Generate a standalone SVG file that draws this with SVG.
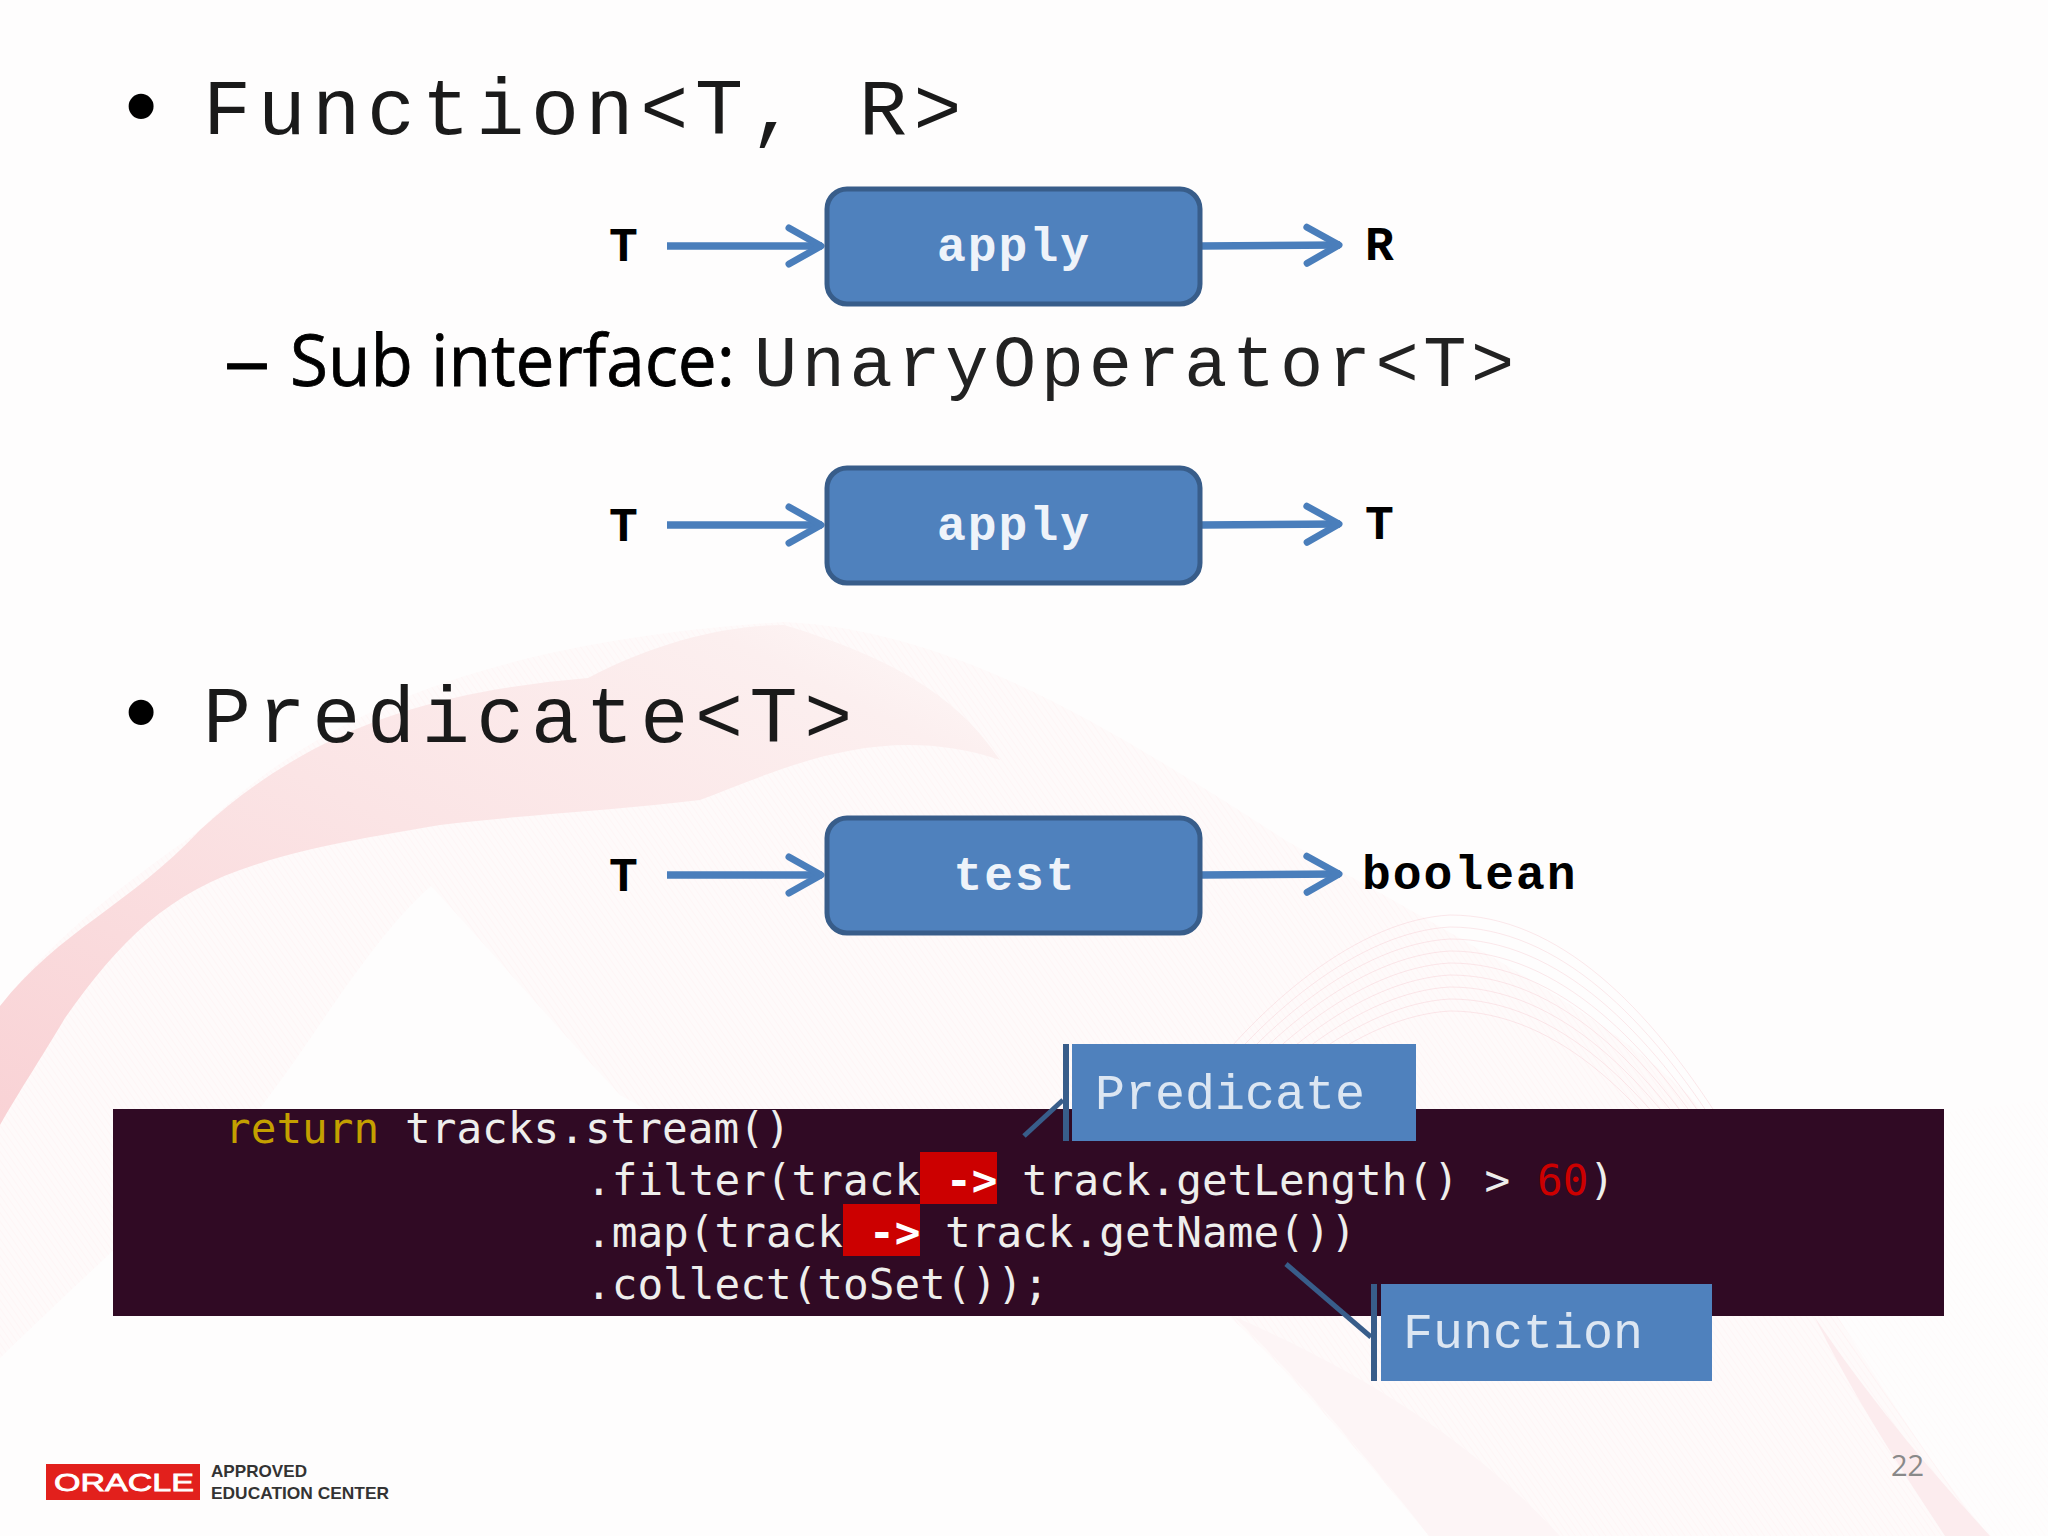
<svg xmlns="http://www.w3.org/2000/svg" width="2048" height="1536" viewBox="0 0 2048 1536">
<style>
.mono{font-family:"Liberation Mono","Courier New",monospace}
.bul{font-family:"Liberation Sans",Arial,sans-serif;font-size:92px;fill:#000}
.h{font-size:80px;letter-spacing:6.65px;fill:#1a1a1a}
.lb{font-size:48px;font-weight:bold;fill:#000;letter-spacing:2px}
.bx{font-size:48px;font-weight:bold;fill:#eef3fa;letter-spacing:2px;text-anchor:middle}
.box{fill:#4f81bd;stroke:#385d8a;stroke-width:5}
.ar{fill:none;stroke:#4a7ebb;stroke-width:7.5}
.code{font-family:"DejaVu Sans Mono",monospace;font-size:42.7px;fill:#eeeeec}
.call{fill:#4f81bd}
.bar{fill:#385d8a}
.lead{stroke:#385d8a;stroke-width:5;fill:none}
.ct{font-size:50px;fill:#dce6f2}
</style>
<defs>
<pattern id="hatch" width="5" height="5" patternUnits="userSpaceOnUse" patternTransform="rotate(55)"><path d="M0 0H5" stroke="#f8c9cf" stroke-width="0.7" stroke-opacity="0.5"/></pattern>
<linearGradient id="dk" x1="0" y1="1" x2="1" y2="0"><stop offset="0" stop-color="#f9d2d5"/><stop offset="0.5" stop-color="#fbe4e5"/><stop offset="0.85" stop-color="#fcefef"/><stop offset="1" stop-color="#fefafa"/></linearGradient>
<path id="arch" d="M1180 1110C1260 1000 1360 920 1450 915C1560 915 1650 1010 1720 1120" fill="none" stroke="#f7cdd2" stroke-width="1" stroke-opacity="0.45"/>
<marker id="chev" viewBox="0 0 40 44" refX="37" refY="22" markerWidth="40" markerHeight="44" markerUnits="userSpaceOnUse" orient="auto"><path d="M4 4L36 22L4 40" fill="none" stroke="#4a7ebb" stroke-width="7" stroke-linecap="round" stroke-linejoin="round"/></marker>
</defs>
<rect width="2048" height="1536" fill="#fefdfd"/>
<g id="background">
<path d="M0 1006C60 930 130 880 200 830C320 710 500 640 784 622C950 630 1100 720 1285 840C1500 960 1650 1040 1720 1130C1800 1250 1900 1430 1990 1536H1429C1350 1440 1270 1350 1200 1290C1050 1200 800 1200 620 1095C550 1020 490 950 431 886C370 940 320 1030 261 1107C170 1200 80 1280 0 1358Z" fill="#fefafa"/>
<path d="M0 1006C60 930 130 880 200 830C320 710 500 640 784 622C950 630 1100 720 1285 840C1500 960 1650 1040 1720 1130C1800 1250 1900 1430 1990 1536H1429C1350 1440 1270 1350 1200 1290C1050 1200 800 1200 620 1095C550 1020 490 950 431 886C370 940 320 1030 261 1107C170 1200 80 1280 0 1358Z" fill="url(#hatch)" opacity="0.5"/>
<path d="M0 1006C60 930 130 905 200 830C320 720 450 690 588 678C660 640 730 625 784 625C900 660 960 700 1000 760C880 720 780 770 700 800C620 810 520 815 440 825C350 840 300 850 261 863C170 890 120 940 65 1018C40 1060 20 1090 0 1125Z" fill="url(#dk)"/>
<path d="M1814 1316C1870 1400 1930 1470 1990 1536H1945C1895 1460 1850 1390 1814 1316Z" fill="#fcecee"/>
<path d="M1233 1316C1300 1380 1370 1460 1429 1536H1560C1480 1450 1380 1380 1233 1316Z" fill="#fdf5f6"/>
<path d="M1720 1150C1820 1130 1950 1110 2048 1100V1536H1990C1900 1430 1800 1280 1720 1150Z" fill="url(#hatch)" opacity="0.25"/>
<use href="#arch"/><use href="#arch" y="12"/><use href="#arch" y="24"/><use href="#arch" y="36"/><use href="#arch" y="48"/><use href="#arch" y="60"/><use href="#arch" y="72"/><use href="#arch" y="84"/><use href="#arch" y="96"/>
</g>
<g id="title1"><text class="bul" x="125" y="137">•</text><text class="mono h" x="203" y="134">Function&lt;T, R&gt;</text></g>
<g id="subtitle"><text x="224" y="386" font-family="'Open Sans','Noto Sans',sans-serif" font-size="72" fill="#000" stroke="#000" stroke-width="1" textLength="46" lengthAdjust="spacingAndGlyphs">–</text><text x="290" y="386" font-family="'Open Sans','Noto Sans',sans-serif" font-size="72" fill="#000" stroke="#000" stroke-width="0.8" textLength="445" lengthAdjust="spacingAndGlyphs">Sub interface:</text><text class="mono" x="754" y="386" font-size="72" letter-spacing="4.6" fill="#222">UnaryOperator&lt;T&gt;</text></g>
<g id="title2"><text class="bul" x="125" y="743">•</text><text class="mono h" x="203" y="742">Predicate&lt;T&gt;</text></g>
<g id="connectors">
<path class="ar" d="M667 246H822" marker-end="url(#chev)"/>
<path class="ar" d="M1201 246L1340 245" marker-end="url(#chev)"/>
<path class="ar" d="M667 525H822" marker-end="url(#chev)"/>
<path class="ar" d="M1201 525L1340 524" marker-end="url(#chev)"/>
<path class="ar" d="M667 875H822" marker-end="url(#chev)"/>
<path class="ar" d="M1201 875L1340 874" marker-end="url(#chev)"/>
</g>
<g id="in1"><text class="mono lb" x="609" y="261">T</text></g>
<g id="apply1"><rect class="box" x="827" y="189" width="373" height="115" rx="20"/><text class="mono bx" x="1014" y="261">apply</text></g>
<g id="out1"><text class="mono lb" x="1365" y="260">R</text></g>
<g id="in2"><text class="mono lb" x="609" y="541">T</text></g>
<g id="apply2"><rect class="box" x="827" y="468" width="373" height="115" rx="20"/><text class="mono bx" x="1014" y="540">apply</text></g>
<g id="out2"><text class="mono lb" x="1365" y="539">T</text></g>
<g id="in3"><text class="mono lb" x="609" y="891">T</text></g>
<g id="test"><rect class="box" x="827" y="818" width="373" height="115" rx="20"/><text class="mono bx" x="1015" y="890">test</text></g>
<g id="out3"><text class="mono lb" x="1362" y="889" letter-spacing="2.6">boolean</text></g>
<g id="code">
<rect x="113" y="1109" width="1831" height="207" fill="#300a24"/>
<rect x="920" y="1152" width="77" height="52" fill="#cc0000"/>
<rect x="843" y="1204" width="77" height="52" fill="#cc0000"/>
<text class="code" x="225" y="1143" style="fill:#c4a000">return</text>
<text class="code" x="405" y="1143">tracks.stream()</text>
<text class="code" x="586" y="1195">.filter(track</text>
<text class="code" x="946" y="1195" style="fill:#fff;font-weight:bold">-&gt;</text>
<text class="code" x="1022" y="1195">track.getLength() &gt; </text>
<text class="code" x="1537" y="1195" style="fill:#cc0000">60</text>
<text class="code" x="1589" y="1195">)</text>
<text class="code" x="586" y="1247">.map(track</text>
<text class="code" x="869" y="1247" style="fill:#fff;font-weight:bold">-&gt;</text>
<text class="code" x="945" y="1247">track.getName())</text>
<text class="code" x="586" y="1299">.collect(toSet());</text>
</g>
<g id="predicate">
<path class="lead" d="M1063 1100L1024 1136"/>
<rect class="bar" x="1063" y="1044" width="6" height="97"/>
<rect class="call" x="1072" y="1044" width="344" height="97"/>
<text class="mono ct" x="1095" y="1109">Predicate</text>
</g>
<g id="function">
<path class="lead" d="M1371 1337L1286 1264"/>
<rect class="bar" x="1371" y="1284" width="6" height="97"/>
<rect class="call" x="1381" y="1284" width="331" height="97"/>
<text class="mono ct" x="1403" y="1348">Function</text>
</g>
<g id="logo">
<rect x="46" y="1464" width="154" height="36" fill="#e2201c"/>
<text x="54" y="1491" font-family="'Liberation Sans',Arial,sans-serif" font-size="24" fill="#fff" stroke="#fff" stroke-width="0.8" textLength="140" lengthAdjust="spacingAndGlyphs">ORACLE</text>
<text x="211" y="1477" font-family="'Liberation Sans',Arial,sans-serif" font-size="17" font-weight="bold" fill="#333" textLength="96" lengthAdjust="spacingAndGlyphs">APPROVED</text>
<text x="211" y="1499" font-family="'Liberation Sans',Arial,sans-serif" font-size="17" font-weight="bold" fill="#333" textLength="178" lengthAdjust="spacingAndGlyphs">EDUCATION CENTER</text>
</g>
<g id="page"><text x="1891" y="1476" font-family="'Open Sans','Noto Sans',sans-serif" font-size="29" fill="#898989">22</text></g>
</svg>
